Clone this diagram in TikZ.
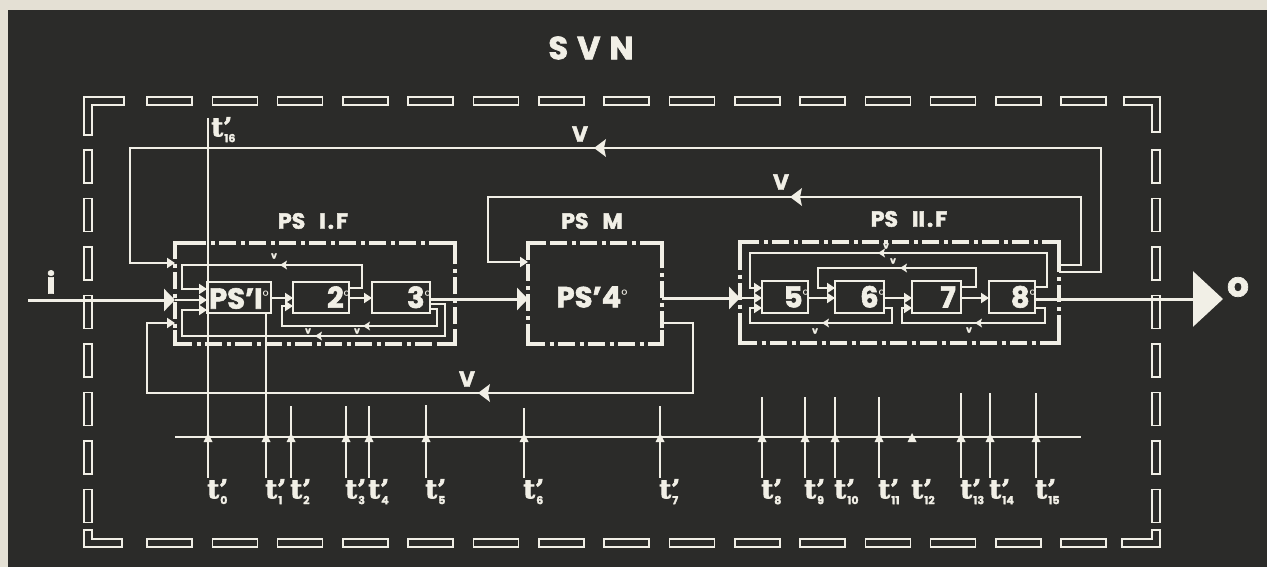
\documentclass[tikz,border=0pt]{standalone}
\usepackage{fontspec}
\setmainfont{Poppins}[BoldFeatures={FakeBold=2}]
\newfontfamily\serifb{DejaVu Serif}[BoldFeatures={FakeBold=2.5}]
\usetikzlibrary{arrows.meta}
\definecolor{bg}{HTML}{2B2B29}
\definecolor{paper}{HTML}{E4E0D4}
\definecolor{ink}{HTML}{F1EFE6}
\newcommand\degmark{\raisebox{7pt}{\fontsize{15}{15}\selectfont\mdseries °}}
\newcommand\tlab[1]{{\serifb\bfseries\fontsize{26}{26}\selectfont t’}\kern-8pt\raisebox{-6pt}{\fontsize{11}{11}\selectfont\bfseries #1}}
\begin{document}
\begin{tikzpicture}[x=1pt,y=-1pt,
  fb/.style={draw=ink,line width=2pt},
  sig/.style={draw=ink,line width=3pt},
  tim/.style={draw=ink,line width=1.5pt},
  blk/.style={draw=ink,line width=2.5pt,rectangle,inner sep=0pt,outer sep=0pt},
  grp/.style={draw=ink,line width=4.5pt,rectangle,inner sep=0pt,outer sep=0pt,
    dash pattern=on 17pt off 4.5pt on 4pt off 4.5pt},
  grpcorner/.style={draw=ink,line width=4.5pt},
  dashbox/.style={draw=ink,line width=1.6pt,fill=bg},
  bigtip/.style={-{Triangle[length=11pt,width=22pt]}},
  smtip/.style={-{Triangle[length=8pt,width=10pt]}},
  hugetip/.style={-{Triangle[length=30pt,width=55pt]}},
  title/.style={text=ink,font=\bfseries\fontsize{32}{32}\selectfont,inner sep=0pt},
  grplbl/.style={text=ink,font=\bfseries\fontsize{22}{22}\selectfont,inner sep=0pt},
  boxtxt/.style={text=ink,font=\bfseries\fontsize{29}{29}\selectfont,inner sep=0pt},
  vbig/.style={text=ink,font=\bfseries\fontsize{22}{22}\selectfont,inner sep=0pt},
  vsmall/.style={text=ink,font=\bfseries\fontsize{9}{9}\selectfont,inner sep=0pt},
  tlbl/.style={text=ink,inner sep=0pt,anchor=north west},
  fbarrow/.pic={\fill[ink] (0,0) -- (12,-9) -- (10,0) -- (12,9) -- cycle;},
  fbsmall/.pic={\fill[ink] (0,0) -- (7,-4.5) -- (5.5,0) -- (7,4.5) -- cycle;},
  uparrow/.pic={\fill[ink] (0,0) -- (-4.5,9) -- (4.5,9) -- cycle;},
]
% background
\fill[paper] (0,0) rectangle (1267,567);
\fill[bg] (8,10) rectangle (1267,567);
\useasboundingbox (0,0) rectangle (1267,567);

% outer dashed frame (SVN)
\foreach \i in {0,...,14} {
  \draw[dashbox] ({147+65.3*\i},97) rectangle ++(45,8);
  \draw[dashbox] ({147+65.3*\i},539) rectangle ++(45,8);
}
\foreach \i in {0,...,7} {
  \draw[dashbox] (84,{150+48.5*\i}) rectangle ++(8,33);
  \draw[dashbox] (1152,{150+48.5*\i}) rectangle ++(8,33);
}
\draw[dashbox] (84,97) -- (124,97) -- (124,105) -- (92,105) -- (92,135) -- (84,135) -- cycle;
\draw[dashbox] (1160,97) -- (1124,97) -- (1124,105) -- (1152,105) -- (1152,132) -- (1160,132) -- cycle;
\draw[dashbox] (84,547) -- (122,547) -- (122,539) -- (92,539) -- (92,530) -- (84,530) -- cycle;
\draw[dashbox] (1160,547) -- (1122,547) -- (1122,539) -- (1152,539) -- (1152,530) -- (1160,530) -- cycle;

\node[title] (svn) at (591,48) {S\kern9pt V\kern9pt N};

% group frames
\node[grp,minimum width=280pt,minimum height=101pt] (g1) at (315,293.5) {};
\node[grp,minimum width=134pt,minimum height=101pt] (g2) at (595,293.5) {};
\node[grp,minimum width=319pt,minimum height=101pt] (g3) at (899.5,292.5) {};
\foreach \g in {g1,g2,g3} {
  \draw[grpcorner] ([xshift=14pt]\g.north west) -- (\g.north west) -- ([yshift=-14pt]\g.north west);
  \draw[grpcorner] ([xshift=-14pt]\g.north east) -- (\g.north east) -- ([yshift=-14pt]\g.north east);
  \draw[grpcorner] ([xshift=14pt]\g.south west) -- (\g.south west) -- ([yshift=14pt]\g.south west);
  \draw[grpcorner] ([xshift=-14pt]\g.south east) -- (\g.south east) -- ([yshift=14pt]\g.south east);
}
\node[grplbl] (l1) at (313,221) {PS\kern14pt I\kern2pt.\kern2pt F};
\node[grplbl] (l2) at (592,221) {PS\kern14pt M};
\node[grplbl] (l3) at (909,219) {PS\kern14pt II\kern2pt.\kern2pt F};

% blocks
\node[blk,minimum width=64pt,minimum height=31pt] (b1) at (239,297.5) {};
\node[blk,minimum width=56pt,minimum height=31pt] (b2) at (321,297.5) {};
\node[blk,minimum width=58pt,minimum height=31pt] (b3) at (401,297.5) {};
\node[blk,minimum width=46pt,minimum height=32pt] (b5) at (785,297) {};
\node[blk,minimum width=49pt,minimum height=32pt] (b6) at (859.5,297) {};
\node[blk,minimum width=49pt,minimum height=32pt] (b7) at (936.5,297) {};
\node[blk,minimum width=46pt,minimum height=32pt] (b8) at (1012,297) {};

\node[boxtxt] at ([yshift=-1pt]b1.center) {PS’I\degmark};
\node[boxtxt,anchor=base east] at ([xshift=1pt,yshift=-10.5pt]b2.east) {2\degmark};
\node[boxtxt,anchor=base east] at ([xshift=1pt,yshift=-10.5pt]b3.east) {3\degmark};
\node[boxtxt,anchor=base east] at ([xshift=1pt,yshift=-10.5pt]b5.east) {5\degmark};
\node[boxtxt,anchor=base east] at ([xshift=1pt,yshift=-10.5pt]b6.east) {6\degmark};
\node[boxtxt,anchor=base east] at ([xshift=-5pt,yshift=-10.5pt]b7.east) {7};
\node[boxtxt,anchor=base east] at ([xshift=1pt,yshift=-10.5pt]b8.east) {8\degmark};
\node[boxtxt] (ps4) at (592,297) {PS’4\degmark};

% input / output
\coordinate (in) at (28,300);
\node[boxtxt] (ilbl) at (51,282) {i};
\draw[sig,bigtip] (in) -- (g1.west |- 0,300);
\coordinate (out) at (1223,299);
\draw[sig,hugetip] (b8.east |- 0,299) -- (out);
\node[text=ink,font=\bfseries\fontsize{34}{34}\selectfont,inner sep=0pt] (olbl) at (1238,287) {o};

% main signal path
\draw[fb,smtip] (g1.west |- 0,300) -- (b1.west |- 0,300);
\draw[fb,smtip] (b1.east |- 0,298) -- (b2.west |- 0,298);
\draw[fb,smtip] (b2.east |- 0,298) -- (b3.west |- 0,298);
\draw[sig,bigtip] (b3.east |- 0,299) -- (g2.west |- 0,299);
\draw[sig,bigtip] (g2.east |- 0,298) -- (g3.west |- 0,298);
\draw[fb,smtip] (g3.west |- 0,298) -- (b5.west |- 0,298);
\draw[fb,smtip] (b5.east |- 0,298) -- (b6.west |- 0,298);
\draw[fb,smtip] (b6.east |- 0,298) -- (b7.west |- 0,298);
\draw[fb,smtip] (b7.east |- 0,298) -- (b8.west |- 0,298);

% feedback inside PS I.F
\draw[fb,smtip] (b2.east |- 0,288) -- (362,288) -- (362,265) -- (182,265) -- (182,289) -- (b1.west |- 0,289);
\pic at (280,265) {fbsmall};
\node[vsmall] at (274,256) {v};
\draw[fb,smtip] (b3.east |- 0,309) -- (437,309) -- (437,326) -- (282,326) -- (282,306) -- (b2.west |- 0,306);
\pic at (363,326) {fbsmall};
\node[vsmall] at (357,331) {v};
\draw[fb,smtip] (b3.east |- 0,304) -- (445,304) -- (445,336) -- (182,336) -- (182,310) -- (b1.west |- 0,310);
\pic at (315,336) {fbsmall};
\node[vsmall] at (308,331) {v};

% feedback inside PS II.F
\draw[fb,smtip] (b8.east |- 0,287) -- (1047,287) -- (1047,253) -- (750,253) -- (750,288) -- (b5.west |- 0,288);
\pic at (878,253) {fbsmall};
\node[vsmall] at (886,246) {v};
\draw[fb,smtip] (b7.east |- 0,287) -- (976,287) -- (976,268) -- (818,268) -- (818,288) -- (b6.west |- 0,288);
\pic at (900,268) {fbsmall};
\node[vsmall] at (893,261) {v};
\draw[fb,smtip] (b6.east |- 0,308) -- (892,308) -- (892,323) -- (750,323) -- (750,308) -- (b5.west |- 0,308);
\pic at (822,323) {fbsmall};
\node[vsmall] at (815,331) {v};
\draw[fb,smtip] (b8.east |- 0,308) -- (1045,308) -- (1045,323) -- (902,323) -- (902,308) -- (b7.west |- 0,308);
\pic at (975,323) {fbsmall};
\node[vsmall] at (969,330) {v};

% global feedback loops V
\draw[fb,smtip] (g3.east |- 0,272) -- (1101,272) -- (1101,148) -- (130,148) -- (130,263) -- (g1.west |- 0,263);
\pic at (594,148) {fbarrow};
\node[vbig] at (580,134) {V};
\draw[fb,smtip] (g3.east |- 0,265) -- (1081,265) -- (1081,197) -- (488,197) -- (488,262) -- (g2.west |- 0,262);
\pic at (790,197) {fbarrow};
\node[vbig] at (781,182) {V};
\draw[fb,smtip] (g2.east |- 0,323) -- (693,323) -- (693,393) -- (147,393) -- (147,323) -- (g1.west |- 0,323);
\pic at (478,393) {fbarrow};
\node[vbig] at (467,379) {V};

% timing bar
\coordinate (barL) at (175,437);
\coordinate (barR) at (1081,437);
\draw[fb] (barL) -- (barR);
\foreach \x/\top/\n in {208/118/0, 266/313/1, 291/406/2, 346/406/3, 369/406/4, 426/405/5,
    524/408/6, 660/406/7, 762/397/8, 805/397/9, 835/397/10, 879/397/11,
    961/393/13, 990/393/14, 1036/393/15} {
  \draw[tim] (\x,\top) -- (\x,478);
  \pic at (\x,433) {uparrow};
  \node[tlbl] (t\n) at ({\x-1},479) {\tlab{\n}};
}
\pic at (912,433) {uparrow};
\node[tlbl] (t12) at (911,479) {\tlab{12}};
\node[tlbl] (t16) at (211,117) {\tlab{16}};
\end{tikzpicture}
\end{document}
